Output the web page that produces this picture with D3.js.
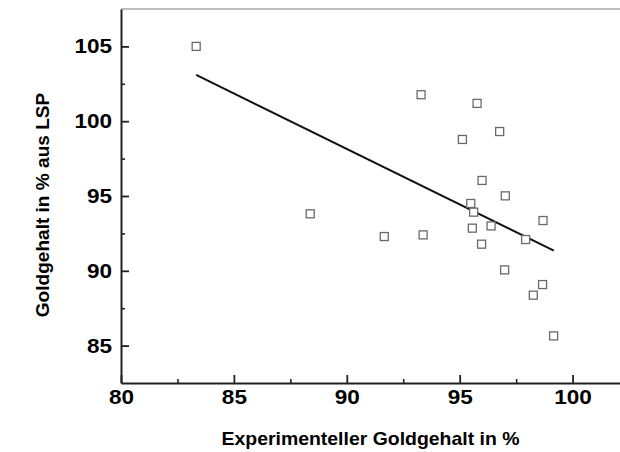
<!DOCTYPE html>
<html>
<head>
<meta charset="utf-8">
<script src="https://cdn.jsdelivr.net/npm/d3@7"></script>
<style>
  body { margin: 0; background: #fff; }
  svg { display: block; font-family: "Liberation Sans", Arial, sans-serif; }
</style>
</head>
<body>
<div id="chart"></div>
<script>
// measured points (experimental gold content vs LSP gold content)
const goldExp = [83.33, 88.38, 91.66, 93.38, 93.29, 95.12, 95.49, 95.56, 95.62, 95.77, 95.97,
                 95.99, 96.39, 96.77, 96.99, 97.02, 97.92, 98.26, 98.67, 98.69, 99.16];
const goldLsp = [105.0, 93.81, 92.29, 92.40, 101.77, 98.78, 94.50, 92.85, 93.92, 101.19, 91.78,
                 96.04, 93.00, 99.31, 90.06, 95.01, 92.09, 88.37, 89.08, 93.36, 85.65];

// linear fit, start and end point
const fitX = [83.33, 99.17];
const fitY = [103.09, 91.35];

const xTicks = [80, 85, 90, 95, 100];
const xMinor = [82.5, 87.5, 92.5, 97.5];
const yTicks = [85, 90, 95, 100, 105];
const yMinor = [87.5, 92.5, 97.5, 102.5];

const width = 620, height = 452;
const mLeft = 121, mRight = 620, mTop = 9, mBottom = 383;
const stretch = 1.1; // the tick labels in the original are a bit wide

const svg = d3.select("#chart").append("svg")
    .attr("width", width)
    .attr("height", height);

const x = d3.scaleLinear().domain([80, 102.1]).range([mLeft, mRight]);
const y = d3.scaleLinear().domain([82.5, 107.5]).range([mBottom, mTop]);

// top frame line (grey)
svg.append("line")
    .attr("x1", mLeft).attr("x2", mRight)
    .attr("y1", mTop).attr("y2", mTop)
    .attr("stroke", "#a8a8a8")
    .attr("stroke-width", 1.5);

// minor ticks
svg.append("g")
    .attr("transform", `translate(0,${mBottom})`)
    .call(d3.axisBottom(x).tickValues(xMinor).tickSizeInner(-4).tickSizeOuter(0).tickFormat(""))
    .call(g => g.select(".domain").remove())
    .call(g => g.selectAll("line").attr("stroke", "#222").attr("stroke-width", 1.6));

svg.append("g")
    .attr("transform", `translate(${mLeft},0)`)
    .call(d3.axisLeft(y).tickValues(yMinor).tickSizeInner(-4).tickSizeOuter(0).tickFormat(""))
    .call(g => g.select(".domain").remove())
    .call(g => g.selectAll("line").attr("stroke", "#222").attr("stroke-width", 1.6));

// x axis
const xAxis = svg.append("g")
    .attr("transform", `translate(0,${mBottom})`)
    .call(d3.axisBottom(x).tickValues(xTicks).tickSizeInner(-8).tickSizeOuter(0).tickPadding(6));

// y axis
const yAxis = svg.append("g")
    .attr("transform", `translate(${mLeft},0)`)
    .call(d3.axisLeft(y).tickValues(yTicks).tickSizeInner(-8).tickSizeOuter(0).tickPadding(9));

[xAxis, yAxis].forEach(ax => {
    ax.select(".domain").attr("stroke", "#222").attr("stroke-width", 2);
    ax.selectAll(".tick line").attr("stroke", "#222").attr("stroke-width", 1.8);
    ax.selectAll(".tick text")
        .attr("fill", "#000")
        .attr("font-size", 20.5)
        .attr("font-weight", "bold")
        .attr("font-family", "'Liberation Sans', Arial, sans-serif");
});
xAxis.selectAll(".tick text").attr("transform", `scale(${stretch},1)`);
yAxis.selectAll(".tick text")
    .attr("x", -9 / stretch)
    .attr("transform", `scale(${stretch},1)`);

// fit line
const fitPts = fitX.map((v, i) => [v, fitY[i]]);
svg.append("path")
    .datum(fitPts)
    .attr("fill", "none")
    .attr("stroke", "#111")
    .attr("stroke-width", 2)
    .attr("d", d3.line().x(d => x(d[0])).y(d => y(d[1])));

// points as open squares
const s = 8;
svg.append("g")
    .selectAll("rect")
    .data(goldExp.map((v, i) => [v, goldLsp[i]]))
    .enter()
    .append("rect")
    .attr("x", d => x(d[0]) - s / 2)
    .attr("y", d => y(d[1]) - s / 2)
    .attr("width", s)
    .attr("height", s)
    .attr("fill", "#fff")
    .attr("stroke", "#6a6a6a")
    .attr("stroke-width", 1.3);

// axis titles
const cx = (mLeft + mRight) / 2;
svg.append("text")
    .attr("x", cx)
    .attr("y", 445)
    .attr("text-anchor", "middle")
    .attr("font-size", 18)
    .attr("font-weight", "bold")
    .attr("transform", `translate(${cx},0) scale(1.08,1) translate(${-cx},0)`)
    .text("Experimenteller Goldgehalt in %");

svg.append("text")
    .attr("transform", `translate(49,205) rotate(-90) scale(1.06,1)`)
    .attr("text-anchor", "middle")
    .attr("font-size", 18)
    .attr("font-weight", "bold")
    .text("Goldgehalt in % aus LSP");
</script>
</body>
</html>
